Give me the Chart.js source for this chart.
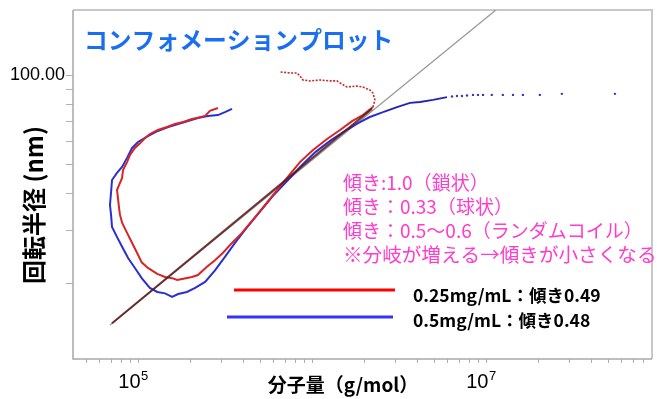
<!DOCTYPE html>
<html><head><meta charset="utf-8">
<script src="https://cdn.jsdelivr.net/npm/chart.js@4/dist/chart.umd.min.js"></script>
<style>html,body{margin:0;padding:0;background:#fff}#wrap{width:657px;height:399px;position:relative}</style>
</head><body><div id="wrap"><canvas id="c" width="657" height="399"></canvas></div>
<script>
// ---- data (molecular weight g/mol, radius of gyration nm) ----
const redMw = [2.88e5,2.59e5,2.43e5,2.18e5,2.04e5,1.82e5,1.63e5,1.47e5,1.30e5,1.17e5,1.10e5,1.03e5,9.6e4,9.0e4,8.65e4,8.2e4,8.1e4,7.78e4,7.57e4,7.67e4,7.78e4,7.88e4,8.1e4,8.65e4,9.25e4,9.87e4,1.05e5,1.14e5,1.29e5,1.43e5,1.57e5,1.68e5,1.82e5,2.04e5,2.21e5,2.49e5,2.77e5,3.08e5,3.47e5,3.96e5,4.83e5,5.97e5,7.18e5,8.53e5,1.01e6,1.22e6,1.45e6,1.70e6,1.96e6,2.24e6];
const redRg = [77.4,75.7,72.8,71.6,71.1,69.5,68.4,66.8,65.3,63.3,61.4,59.0,56.8,53.8,50.9,47.9,45.0,42.6,41.0,38.6,35.7,33.8,31.8,29.4,27.2,25.2,23.4,22.4,21.4,20.9,20.7,20.4,20.6,20.9,21.2,22.6,23.8,25.2,27.2,29.4,33.8,39.4,45.0,50.9,55.8,60.9,65.3,69.9,73.3,78.0];
const redTailMw = [2.24e6,2.30e6,2.24e6,2.15e6,1.96e6,1.81e6,1.59e6,1.45e6,1.39e6,1.27e6,1.11e6,9.74e5,8.87e5,8.53e5,8.2e5,7.48e5,6.55e5];
const redTailRg = [78.0,82.4,86.9,89.0,91.1,91.8,91.1,94.0,95.5,95.5,96.2,95.5,96.2,99.2,101.6,101.6,102.4];
const blueMw = [3.47e5,3.16e5,2.88e5,2.52e5,2.21e5,1.94e5,1.70e5,1.49e5,1.30e5,1.14e5,1.00e5,9.25e4,8.65e4,8.1e4,7.57e4,7.09e4,7.0e4,6.9e4,7.0e4,7.09e4,7.57e4,8.1e4,8.77e4,9.6e4,1.05e5,1.17e5,1.29e5,1.43e5,1.57e5,1.70e5,1.91e5,2.13e5,2.43e5,2.77e5,3.16e5,3.61e5,4.12e5,4.90e5,5.97e5,7.28e5,8.77e5,1.05e6,1.27e6,1.55e6,1.84e6,2.15e6,2.56e6];
const blueRg = [76.9,75.0,73.3,72.8,71.6,70.0,68.4,66.8,64.8,62.3,59.5,56.8,52.6,49.0,46.8,44.3,40.3,36.5,33.8,30.8,28.5,26.4,24.2,22.4,20.7,19.2,18.6,18.4,17.9,18.3,18.6,19.2,20.1,22.0,24.4,27.2,30.1,34.1,39.2,44.3,49.8,55.1,60.0,64.8,68.9,72.2,75.0];
const blueTailMw = [2.56e6,3.08e6,3.66e6,4.18e6,4.96e6,5.97e6];
const blueTailRg = [75.0,78.0,80.5,81.1,82.4,84.3];
const blueDotMw = [6.38e6,6.81e6,7.28e6,7.78e6,8.42e6,9.0e6,9.62e6,1.08e7,1.25e7,1.43e7,1.63e7,2.04e7,2.73e7,5.51e7];
const blueDotRg = [84.6,85.0,85.0,85.3,85.7,85.7,85.7,85.7,85.7,85.7,85.7,85.7,86.4,86.4];
const fitMw = [7.09e4,2.21e6];
const fitRg = [14.6,76.9];
const guideMw = [6.9e4,1.14e7];
const guideRg = [14.4,165.5];
const xMinorTicks = [5e4,6e4,7e4,8e4,9e4,1e5,2e5,3e5,4e5,5e5,6e5,7e5,8e5,9e5,1e6,2e6,3e6,4e6,5e6,6e6,7e6,8e6,9e6,1e7,2e7,3e7,4e7,5e7,6e7,7e7,8e7];
const xLabelExp = [5,7];
const yMinorTicks = [20,30,40,50,60,70,80,90,100];
const yLabelValues = [100];
const yLabelText = ['100.00'];
const titleText = 'コンフォメーションプロット';
const noteLines = ['傾き:1.0（鎖状）','傾き：0.33（球状）','傾き：0.5～0.6（ランダムコイル）','※分岐が増える→傾きが小さくなる'];
const legendLabels = ['0.25mg/mL：傾き0.49','0.5mg/mL：傾き0.48'];
const xTitle = '分子量（g/mol）';
const yTitle = '回転半径 (nm)';

const pts=(xs,ys)=>xs.map((x,i)=>({x:x,y:ys[i]}));
const JP='"Noto Sans CJK JP","Noto Sans",sans-serif';
const LAT='"Liberation Sans","DejaVu Sans",sans-serif';

const deco={id:'deco',
  beforeDatasetsDraw(chart){
    const c=chart.ctx, a=chart.chartArea, xs=chart.scales.x, ys=chart.scales.y;
    c.save();
    c.strokeStyle='#c8c8c8'; c.lineWidth=2;
    c.beginPath(); c.moveTo(a.left,a.top); c.lineTo(a.right,a.top); c.lineTo(a.right,a.bottom); c.stroke();
    c.strokeStyle='#a8a8a8'; c.lineWidth=1.5;
    c.beginPath(); c.moveTo(a.left,a.top); c.lineTo(a.left,a.bottom); c.lineTo(a.right,a.bottom); c.stroke();
    c.strokeStyle='#b0b0b0'; c.lineWidth=1;
    xMinorTicks.forEach(v=>{const p=Math.round(xs.getPixelForValue(v))+0.5; c.beginPath(); c.moveTo(p,a.bottom); c.lineTo(p,a.bottom+4); c.stroke();});
    yMinorTicks.forEach(v=>{const p=Math.round(ys.getPixelForValue(v))+0.5; c.beginPath(); c.moveTo(a.left-7,p); c.lineTo(a.left,p); c.stroke();});
    c.restore();
  },
  afterDatasetsDraw(chart){
    const c=chart.ctx, a=chart.chartArea, xs=chart.scales.x, ys=chart.scales.y;
    c.save();
    c.textBaseline='middle';
    c.fillStyle='#1a6ff0'; c.font='bold 23.8px '+JP; c.textAlign='left';
    c.fillText(titleText,84,40);
    c.fillStyle='#ff3ccc';
    noteLines.forEach((t,i)=>{c.font=(i===3?'19.6px ':'19px ')+JP; c.fillText(t,343,183+i*23.7);});
    c.lineWidth=3;
    c.strokeStyle='#ff0000'; c.beginPath(); c.moveTo(234,290); c.lineTo(395,290); c.stroke();
    c.strokeStyle='#3333ff'; c.beginPath(); c.moveTo(227,317); c.lineTo(393,317); c.stroke();
    c.fillStyle='#000'; c.font='bold 17.5px '+JP;
    c.fillText(legendLabels[0],413,295);
    c.fillText(legendLabels[1],413,320);
    c.textAlign='center'; c.font='bold 19px '+JP;
    c.fillText(xTitle,343,385);
    c.save(); c.translate(34,205); c.rotate(-Math.PI/2); c.font='bold 24px '+JP; c.fillText(yTitle,0,0); c.restore();
    c.textAlign='right'; c.font='18px '+LAT;
    yLabelValues.forEach((v,i)=>c.fillText(yLabelText[i],65,ys.getPixelForValue(v)));
    xLabelExp.forEach(e=>{
      const p=xs.getPixelForValue(Math.pow(10,e));
      c.font='20px '+LAT; const w1=c.measureText('10').width;
      c.font='13px '+LAT; const w2=c.measureText(String(e)).width;
      const x0=p-5-(w1+w2)/2;
      c.textAlign='left'; c.font='20px '+LAT; c.fillText('10',x0,382);
      c.font='13px '+LAT; c.fillText(String(e),x0+w1+0.5,376);
    });
    c.restore();
  }
};

new Chart(document.getElementById('c').getContext('2d'),{
  type:'scatter',
  data:{datasets:[
    {data:pts(guideMw,guideRg),showLine:true,borderColor:'#9a9a9a',borderWidth:1.3,pointRadius:0,order:6},
    {data:pts(blueTailMw,blueTailRg),showLine:true,borderColor:'#2424b0',borderWidth:1.8,pointRadius:0,order:5},
    {data:pts(blueDotMw,blueDotRg),showLine:false,backgroundColor:'#3a3aa8',borderWidth:0,pointRadius:1.2,order:5},
    {data:pts(blueMw,blueRg),showLine:true,borderColor:'#2a30d0',borderWidth:2,pointRadius:0,order:4},
    {data:pts(redTailMw,redTailRg),showLine:true,borderColor:'#c82828',borderWidth:1.6,borderDash:[2,1.5],pointRadius:0,order:3},
    {data:pts(redMw,redRg),showLine:true,borderColor:'#d82424',borderWidth:2,pointRadius:0,order:2},
    {data:pts(fitMw,fitRg),showLine:true,borderColor:'rgba(90,24,24,0.85)',borderWidth:2,pointRadius:0,order:1}
  ]},
  options:{responsive:false,animation:false,
    layout:{padding:{left:73,top:10,right:5,bottom:40}},
    scales:{
      x:{type:'logarithmic',display:false,min:42300,max:9.0e7},
      y:{type:'logarithmic',display:false,min:11.06,max:165.5}
    },
    plugins:{legend:{display:false},tooltip:{enabled:false}}
  },
  plugins:[deco]
});
</script></body></html>
